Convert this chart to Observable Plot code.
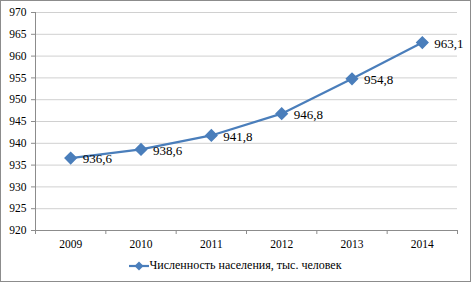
<!DOCTYPE html>
<html><head><meta charset="utf-8">
<script src="https://cdn.jsdelivr.net/npm/d3@7"></script>
<script src="https://cdn.jsdelivr.net/npm/@observablehq/plot@0.6"></script>
<style>
body{margin:0;background:#fff;}
#wrap{box-sizing:border-box;width:471px;height:282px;border:1px solid #8c8c8c;background:#fff;position:relative;}
#legend{position:absolute;left:0;right:0;top:257px;text-align:center;font-family:"Liberation Serif","DejaVu Serif",serif;font-size:12px;color:#000;line-height:14px;}
#legend svg{vertical-align:middle;}
#chart svg, #chart svg text{font-family:"Liberation Serif","DejaVu Serif",serif !important;}
</style></head>
<body><div id="wrap"><div id="chart"></div><div id="legend"></div></div>
<script>
const years = [2009, 2010, 2011, 2012, 2013, 2014];
const population = [936.6, 938.6, 941.8, 946.8, 954.8, 963.1];
const yTicks = [920, 925, 930, 935, 940, 945, 950, 955, 960, 965, 970];
const seriesName = "Численность населения, тыс. человек";
const color = "#4a7ebb";

const data = years.map((y, i) => ({year: y, value: population[i]}));
const bounds = [...years.map(y => y - 0.5), years[years.length - 1] + 0.5];
const fmt = v => d3.format(".1f")(v).replace(".", ",");

const chart = Plot.plot({
  width: 469, height: 248,
  marginLeft: 34, marginRight: 13, marginTop: 11, marginBottom: 19,
  style: {fontSize: "11.5px", color: "#000", background: "transparent"},
  x: {type: "linear", domain: [bounds[0], bounds[bounds.length - 1]]},
  y: {type: "linear", domain: [920, 970]},
  marks: [
    Plot.ruleY(yTicks.slice(1), {stroke: "#d0d0d0", strokeWidth: 1}),
    Plot.axisY({ticks: yTicks, tickSize: 4, tickPadding: 5, stroke: "#8c8c8c", label: null, tickFormat: d => String(d), fill: "#000"}),
    Plot.axisX({ticks: bounds, tickSize: 4, tickFormat: () => "", stroke: "#8c8c8c", label: null}),
    Plot.axisX({ticks: years, tickSize: 0, tickPadding: 9, tickFormat: d => String(d), label: null, fill: "#000"}),
    Plot.ruleX([bounds[0]], {stroke: "#8c8c8c"}),
    Plot.ruleY([920], {stroke: "#8c8c8c"}),
    Plot.line(data, {x: "year", y: "value", stroke: color, strokeWidth: 2.2}),
    Plot.dot(data, {x: "year", y: "value", symbol: "diamond2", r: 5, fill: color, stroke: color}),
    Plot.text(data, {x: "year", y: "value", text: d => fmt(d.value), textAnchor: "start", dx: 12, dy: 1, fontSize: 13, fill: "#000"})
  ]
});
document.getElementById("chart").appendChild(chart);

const leg = document.getElementById("legend");
leg.innerHTML = `<svg width="20" height="12"><line x1="0" y1="6" x2="20" y2="6" stroke="${color}" stroke-width="2.2"/><path d="M10,1.5 L14.5,6 L10,10.5 L5.5,6 Z" fill="${color}"/></svg><span>${seriesName}</span>`;
</script></body></html>
